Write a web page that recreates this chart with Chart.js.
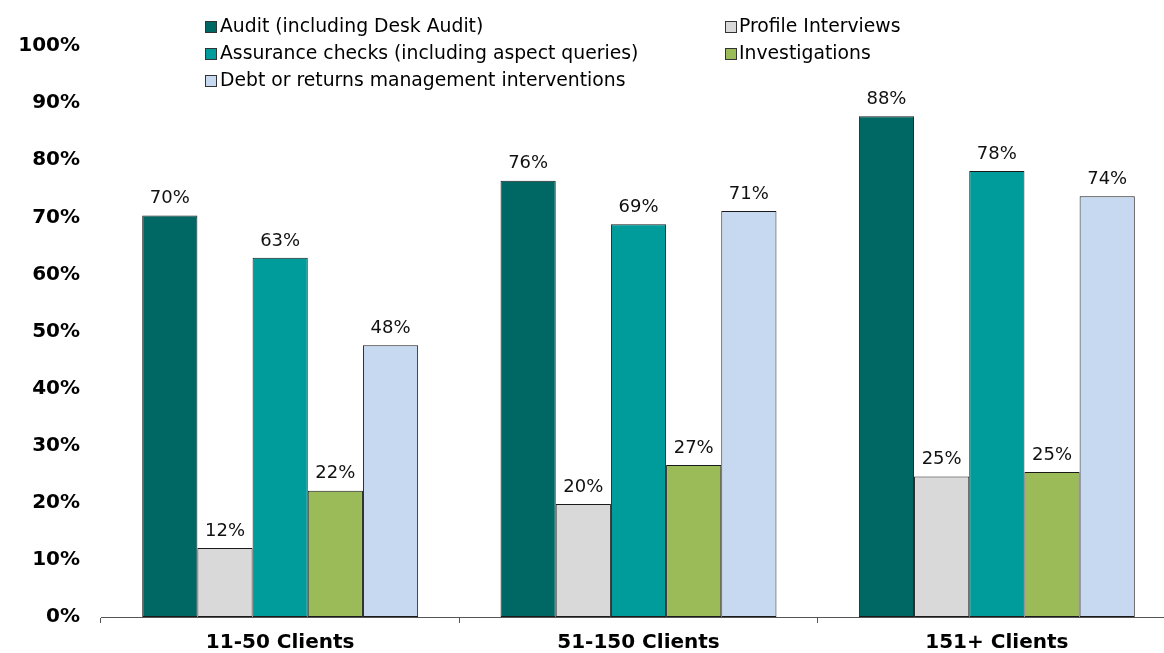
<!DOCTYPE html>
<html>
<head>
<meta charset="utf-8">
<script src="https://cdn.jsdelivr.net/npm/chart.js@4.4.1/dist/chart.umd.min.js"></script>
<style>
  html, body { margin: 0; padding: 0; background: #fff; overflow: hidden; width: 1164px; height: 653px; }
  #wrap { position: absolute; left: 0; top: 0; width: 1176px; height: 653px; }
  .leg { position: absolute; font-family: "DejaVu Sans", Verdana, sans-serif; font-size: 18.8px; color: #000; white-space: nowrap; line-height: 20px; height: 20px; }
  .leg .box { position: absolute; left: 0; top: 4px; width: 10px; height: 10px; border: 1px solid #333; }
  .leg .txt { position: absolute; top: -1px; white-space: nowrap; }
</style>
</head>
<body>
<div id="wrap"><canvas id="c"></canvas></div>
<div id="legend"></div>
<script>
const categories = ["11-50 Clients", "51-150 Clients", "151+ Clients"];
const seriesNames = [
  "Audit (including Desk Audit)",
  "Profile Interviews",
  "Assurance checks (including aspect queries)",
  "Investigations",
  "Debt or returns management interventions"
];
const audit = [70.3, 76.4, 87.7];
const profile = [12.1, 19.8, 24.6];
const assurance = [62.9, 68.8, 78.1];
const investigations = [22.1, 26.6, 25.4];
const debt = [47.6, 71.1, 73.7];
const yTicks = [0, 10, 20, 30, 40, 50, 60, 70, 80, 90, 100];

const colors = ["#006864", "#D9D9D9", "#009B9B", "#9BBB59", "#C6D9F1"];
const seriesData = [audit, profile, assurance, investigations, debt];

// Legend (HTML, two columns)
const legendPos = [
  {x: 205, y: 17, tx: 15},
  {x: 725, y: 17, tx: 14},
  {x: 205, y: 44, tx: 15},
  {x: 725, y: 44, tx: 14},
  {x: 205, y: 71, tx: 15}
];
const legendEl = document.getElementById('legend');
seriesNames.forEach((n, i) => {
  const d = document.createElement('div');
  d.className = 'leg';
  d.style.left = legendPos[i].x + 'px';
  d.style.top = legendPos[i].y + 'px';
  d.innerHTML = '<span class="box" style="background:' + colors[i] + '"></span><span class="txt" style="left:' + legendPos[i].tx + 'px">' + n + '</span>';
  legendEl.appendChild(d);
});

const labelPlugin = {
  id: 'barLabels',
  afterDatasetsDraw(chart) {
    const ctx = chart.ctx;
    ctx.save();
    ctx.font = '18px "DejaVu Sans", Verdana, sans-serif';
    ctx.fillStyle = '#111';
    ctx.textAlign = 'center';
    ctx.textBaseline = 'middle';
    chart.data.datasets.forEach((ds, di) => {
      const meta = chart.getDatasetMeta(di);
      meta.data.forEach((bar, i) => {
        ctx.fillText(Math.round(ds.data[i]) + '%', bar.x, bar.y - 17);
      });
    });
    ctx.restore();
  }
};

new Chart(document.getElementById('c'), {
  type: 'bar',
  data: {
    labels: categories,
    datasets: seriesNames.map((n, i) => ({
      label: n,
      data: seriesData[i],
      backgroundColor: colors[i],
      borderColor: '#1a1a1a',
      borderWidth: 1,
      borderSkipped: false,
      categoryPercentage: 0.77,
      barPercentage: 1.0
    }))
  },
  options: {
    responsive: true,
    maintainAspectRatio: false,
    animation: false,
    layout: { padding: { top: 46, left: 0, right: 0, bottom: 0 } },
    plugins: {
      legend: { display: false },
      tooltip: { enabled: false }
    },
    scales: {
      x: {
        offset: true,
        grid: { display: true, drawOnChartArea: false, drawTicks: true, tickLength: 6, color: '#555', offset: true },
        border: { display: true, color: '#555', width: 1 },
        ticks: {
          color: '#000',
          padding: 8,
          maxRotation: 0,
          font: { family: '"DejaVu Sans", Verdana, sans-serif', size: 20, weight: 'bold' }
        },
        afterFit(scale) { scale.height = 36; }
      },
      y: {
        min: 0,
        max: 100,
        afterBuildTicks(scale) { scale.ticks = yTicks.map(v => ({ value: v })); },
        grid: { display: false, drawTicks: false },
        border: { display: false },
        ticks: {
          color: '#000',
          padding: 21,
          callback: v => v + '%',
          font: { family: '"DejaVu Sans", Verdana, sans-serif', size: 20, weight: 'bold' }
        },
        afterFit(scale) { scale.width = 101; }
      }
    }
  },
  plugins: [labelPlugin]
});
</script>
</body>
</html>
